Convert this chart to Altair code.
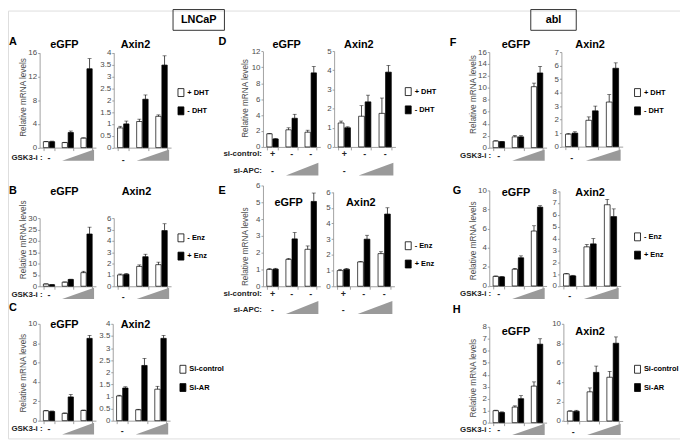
import altair as alt
import pandas as pd

# ---------------- data ----------------
GROUPS = ["1", "2", "3"]
DHT = ["+ DHT", "- DHT"]
ENZ = ["- Enz", "+ Enz"]
SIAR = ["Si-control", "Si-AR"]
DOSE = [1.7, 3.4]          # GSK3-i / si-APC ramp, in group units
DOSE_LEVEL = [0, 1]

# panel A (LNCaP, DHT)
A_eGFP_w = [1.0, 0.85, 1.6];   A_eGFP_w_err = [0.05, 0.05, 0.05]
A_eGFP_b = [1.0, 2.55, 13.3];  A_eGFP_b_err = [0.1, 0.25, 1.7]
A_Axin2_w = [0.83, 1.1, 1.32]; A_Axin2_w_err = [0.07, 0.1, 0.06]
A_Axin2_b = [1.0, 2.04, 3.48]; A_Axin2_b_err = [0.12, 0.18, 0.39]
# panel B (LNCaP, Enz)
B_eGFP_w = [1.0, 1.8, 6.0];    B_eGFP_w_err = [0.05, 0.1, 0.6]
B_eGFP_b = [0.7, 3.0, 23.0];   B_eGFP_b_err = [0.05, 0.1, 3.0]
B_Axin2_w = [1.0, 1.75, 1.9];  B_Axin2_w_err = [0.08, 0.13, 0.22]
B_Axin2_b = [1.05, 2.6, 4.9];  B_Axin2_b_err = [0.07, 0.22, 0.6]
# panel C (LNCaP, si-AR)
C_eGFP_w = [1.02, 0.75, 1.05]; C_eGFP_w_err = [0.03, 0.05, 0.05]
C_eGFP_b = [0.95, 2.45, 8.5];  C_eGFP_b_err = [0.05, 0.25, 0.3]
C_Axin2_w = [1.02, 0.45, 1.3]; C_Axin2_w_err = [0.03, 0.02, 0.12]
C_Axin2_b = [1.35, 2.28, 3.4]; C_Axin2_b_err = [0.05, 0.29, 0.12]
# panel D (LNCaP, DHT, si-APC)
D_eGFP_w = [1.65, 2.15, 1.85]; D_eGFP_w_err = [0.05, 0.25, 0.25]
D_eGFP_b = [1.0, 3.6, 9.3];    D_eGFP_b_err = [0.05, 0.5, 0.8]
D_Axin2_w = [1.25, 1.6, 1.75]; D_Axin2_w_err = [0.1, 0.55, 0.8]
D_Axin2_b = [1.0, 2.35, 3.9];  D_Axin2_b_err = [0.05, 0.35, 0.35]
# panel E (LNCaP, Enz, si-APC)
E_eGFP_w = [1.0, 1.6, 2.2];    E_eGFP_w_err = [0.05, 0.06, 0.2]
E_eGFP_b = [1.02, 2.82, 5.05]; E_eGFP_b_err = [0.05, 0.38, 0.5]
E_Axin2_w = [1.0, 1.55, 2.08]; E_Axin2_w_err = [0.08, 0.03, 0.12]
E_Axin2_b = [1.08, 3.0, 4.6];  E_Axin2_b_err = [0.06, 0.25, 0.4]
# panel F (abl, DHT)
F_eGFP_w = [1.1, 1.8, 10.2];   F_eGFP_w_err = [0.05, 0.2, 0.6]
F_eGFP_b = [1.0, 1.8, 12.5];   F_eGFP_b_err = [0.05, 0.2, 1.1]
F_Axin2_w = [0.92, 1.95, 3.3]; F_Axin2_w_err = [0.05, 0.25, 0.55]
F_Axin2_b = [1.0, 2.65, 5.8];  F_Axin2_b_err = [0.1, 0.35, 0.4]
# panel G (abl, Enz)
G_eGFP_w = [1.0, 1.75, 5.75];  G_eGFP_w_err = [0.05, 0.1, 0.55]
G_eGFP_b = [0.95, 2.95, 8.25]; G_eGFP_b_err = [0.05, 0.2, 0.15]
G_Axin2_w = [1.02, 3.3, 6.85]; G_Axin2_w_err = [0.04, 0.2, 0.45]
G_Axin2_b = [0.85, 3.55, 5.85]; G_Axin2_b_err = [0.05, 0.45, 0.65]
# panel H (abl, si-AR)
H_eGFP_w = [1.0, 1.3, 3.05];   H_eGFP_w_err = [0.04, 0.1, 0.35]
H_eGFP_b = [0.85, 2.0, 6.55];  H_eGFP_b_err = [0.05, 0.25, 0.45]
H_Axin2_w = [1.0, 3.0, 4.5];   H_Axin2_w_err = [0.05, 0.4, 0.6]
H_Axin2_b = [1.0, 5.0, 8.0];   H_Axin2_b_err = [0.1, 0.65, 0.65]

# ---------------- layout / style ----------------
M = 8
W, H = 680, 433
FONT = "Liberation Sans"
AXC = "#8a8a8a"
LABC = "#4d4d4d"


def frame(conds, v1, e1, v2, e2):
    rows = []
    for i, g in enumerate(GROUPS):
        rows.append(dict(group=g, cond=conds[0], val=v1[i], hi=v1[i] + e1[i]))
        rows.append(dict(group=g, cond=conds[1], val=v2[i], hi=v2[i] + e2[i]))
    return pd.DataFrame(rows)


def plot(df, conds, box, ymax, step, leg, rows):
    x0, x1, yt, yb = box[0] - M, box[1] - M, box[2] - M, box[3] - M
    xs = alt.Scale(domain=GROUPS, range=[x0, x1], paddingInner=0.4, paddingOuter=0.2)
    ys = alt.Scale(domain=[0, ymax], range=[yb, yt], nice=False)
    os_ = alt.Scale(domain=conds, paddingInner=0.12)
    n = int(round(ymax / step))
    vals = [round(i * step, 3) for i in range(n + 1)]
    xax = alt.Axis(orient="bottom", offset=yb - H, labels=False, title=None, grid=False,
                   tickBand="extent", tickSize=3, domainColor=AXC, tickColor=AXC,
                   domainWidth=0.8, tickWidth=0.8)
    yax = alt.Axis(orient="left", offset=-x0, values=vals, format="~r", title=None, grid=False,
                   tickSize=2, labelFontSize=8, labelColor=LABC, labelPadding=1, labelFont=FONT,
                   domainColor=AXC, tickColor=AXC, domainWidth=0.8, tickWidth=0.8)
    lx, ly = leg
    legend = alt.Legend(orient="none", legendX=lx - 1.5 - M, legendY=ly - 4.5 - M, title=None,
                        symbolType="M-0.75,-1L0.75,-1L0.75,1L-0.75,1Z", symbolSize=64,
                        symbolStrokeColor="black", symbolStrokeWidth=0.8,
                        labelFontSize=7.5, labelFontWeight="bold", labelColor="black",
                        labelFont=FONT, labelOffset=2, rowPadding=5.5, padding=0)
    X = alt.X("group:N", scale=xs, axis=xax)
    XO = alt.XOffset("cond:N", scale=os_)
    base = alt.Chart(df)
    bars = base.mark_bar(stroke="black", strokeWidth=0.7).encode(
        x=X, xOffset=XO, y=alt.Y("val:Q", scale=ys, axis=yax),
        fill=alt.Fill("cond:N", scale=alt.Scale(domain=conds, range=["white", "black"]), legend=legend))
    err = base.mark_rule(color="black", strokeWidth=0.7).encode(
        x=X, xOffset=XO, y=alt.Y("val:Q", scale=ys, axis=yax), y2="hi:Q")
    cap = base.mark_tick(color="black", thickness=0.7, size=4).encode(
        x=X, xOffset=XO, y=alt.Y("hi:Q", scale=ys, axis=yax))
    layers = [bars, err, cap]
    for labels, ry in rows:
        ldf = pd.DataFrame({"group": GROUPS[:len(labels)], "t": labels})
        layers.append(alt.Chart(ldf).mark_text(fontSize=9, fontWeight="bold", font=FONT, color="#222").encode(
            x=X, y=alt.value(ry - M), text="t:N"))
    return alt.layer(*layers)


def wedge(box, wy, dose):
    x0, x1 = box[0] - M, box[1] - M
    top, bot = wy[0] - M, wy[1] - M
    df = pd.DataFrame({"dose": dose, "h": DOSE_LEVEL})
    return alt.Chart(df).mark_area(color="#9a9a9a").encode(
        x=alt.X("dose:Q", scale=alt.Scale(domain=[0.5, 3.5], range=[x0, x1], nice=False, zero=False), axis=None),
        y=alt.Y("h:Q", scale=alt.Scale(domain=[0, 1], range=[bot, top], nice=False), axis=None))


def panel(conds, e, a, ebox, emax, estep, abox, amax, astep, leg, rows_e, rows_a, wy):
    pe = plot(frame(conds, *e), conds, ebox, emax, estep, leg, rows_e)
    pa = plot(frame(conds, *a), conds, abox, amax, astep, leg, rows_a)
    return alt.layer(pe, pa, wedge(ebox, wy, DOSE), wedge(abox, wy, DOSE)).resolve_scale(
        x="independent", y="independent", xOffset="independent")


def text(s, x, y, size, weight="normal", align="center", angle=0, color="black"):
    return alt.Chart(pd.DataFrame({"t": [s]})).mark_text(
        fontSize=size, fontWeight=weight, align=align, baseline="middle", angle=angle,
        color=color, font=FONT).encode(x=alt.value(x - M), y=alt.value(y - M), text="t:N")


def frame_box(x0, x1, y0, y1):
    return alt.Chart(pd.DataFrame({"a": [0]})).mark_rect(fillOpacity=0, stroke="#333", strokeWidth=1).encode(
        x=alt.value(x0 - M), x2=alt.value(x1 - M), y=alt.value(y0 - M), y2=alt.value(y1 - M))


panels = [
    panel(DHT, (A_eGFP_w, A_eGFP_w_err, A_eGFP_b, A_eGFP_b_err), (A_Axin2_w, A_Axin2_w_err, A_Axin2_b, A_Axin2_b_err),
          (40, 97, 50.7, 146.7), 16, 4, (115, 173, 50.7, 146.7), 4, 0.5, (180, 91),
          [(["-"], 157)], [(["-"], 159)], (148.7, 160)),
    panel(ENZ, (B_eGFP_w, B_eGFP_w_err, B_eGFP_b, B_eGFP_b_err), (B_Axin2_w, B_Axin2_w_err, B_Axin2_b, B_Axin2_b_err),
          (40, 97, 218, 287), 30, 5, (115, 173, 218, 287), 6, 1, (180, 238),
          [(["-"], 296)], [(["-"], 298)], (288.5, 300)),
    panel(SIAR, (C_eGFP_w, C_eGFP_w_err, C_eGFP_b, C_eGFP_b_err), (C_Axin2_w, C_Axin2_w_err, C_Axin2_b, C_Axin2_b_err),
          (40, 97, 325, 423), 10, 2, (114, 172, 325, 423), 4, 0.5, (182, 371),
          [(["-"], 431)], [(["-"], 433)], (425, 437)),
    panel(DHT, (D_eGFP_w, D_eGFP_w_err, D_eGFP_b, D_eGFP_b_err), (D_Axin2_w, D_Axin2_w_err, D_Axin2_b, D_Axin2_b_err),
          (266, 324, 49.3, 146), 12, 2, (338, 400, 49, 146), 5, 1, (410, 90),
          [(["+", "-", "-"], 153.5), (["-"], 170)], [(["+", "-", "-"], 153.5), (["-"], 170)], (162, 175)),
    panel(ENZ, (E_eGFP_w, E_eGFP_w_err, E_eGFP_b, E_eGFP_b_err), (E_Axin2_w, E_Axin2_w_err, E_Axin2_b, E_Axin2_b_err),
          (266, 324, 185, 287), 6, 1, (337, 399, 191.7, 287), 6, 1, (410, 246),
          [(["+", "-", "-"], 295), (["-"], 311)], [(["+", "-", "-"], 295), (["-"], 311)], (302, 315)),
    panel(DHT, (F_eGFP_w, F_eGFP_w_err, F_eGFP_b, F_eGFP_b_err), (F_Axin2_w, F_Axin2_w_err, F_Axin2_b, F_Axin2_b_err),
          (495, 553, 50, 146.7), 16, 2, (568, 630, 50, 145.7), 7, 1, (642, 91),
          [(["-"], 155)], [(["-"], 157)], (148.5, 160)),
    panel(ENZ, (G_eGFP_w, G_eGFP_w_err, G_eGFP_b, G_eGFP_b_err), (G_Axin2_w, G_Axin2_w_err, G_Axin2_b, G_Axin2_b_err),
          (495, 553, 190, 286.7), 10, 2, (566, 628, 190.7, 286.7), 8, 1, (642, 237),
          [(["-"], 295)], [(["-"], 297)], (288.5, 300)),
    panel(SIAR, (H_eGFP_w, H_eGFP_w_err, H_eGFP_b, H_eGFP_b_err), (H_Axin2_w, H_Axin2_w_err, H_Axin2_b, H_Axin2_b_err),
          (495, 553, 328, 425), 8, 1, (570, 630, 325, 423.3), 10, 2, (642, 371),
          [(["-"], 432)], [(["-"], 434)], (426, 437.5)),
]

texts = [
    frame_box(175, 227, 7, 28), text("LNCaP", 201, 17.5, 11, "bold"),
    frame_box(537, 583, 7, 28), text("abl", 560, 17.5, 11, "bold"),
]
for s, x, y in [("A", 9, 40), ("B", 9, 191), ("C", 9, 309), ("D", 221, 40), ("E", 221, 191),
                ("F", 455, 41), ("G", 458, 191), ("H", 458, 311)]:
    texts.append(text(s, x, y, 11, "bold", align="left"))
for xe, xa, y in [(65, 137, 43), (65, 138, 192), (65, 137, 326), (290, 363, 43), (292, 365, 203),
                  (522, 597, 43), (522, 597, 193), (522, 597, 333)]:
    texts.append(text("eGFP", xe, y, 11, "bold"))
    texts.append(text("Axin2", xa, y, 11, "bold"))
for x, y in [(24.5, 96), (24.5, 240), (24.5, 375), (248.5, 97), (248.5, 247), (479.5, 93), (479.5, 241), (479.5, 380)]:
    texts.append(text("Relative mRNA levels", x, y, 8.3, angle=270, color=LABC))
for x, y in [(43, 157), (43, 296), (43, 431), (497, 155), (497, 295), (497, 432)]:
    texts.append(text("GSK3-i :", x, y, 8, "bold", align="right", color="#222"))
for y1, y2 in [(153.5, 170), (295, 311)]:
    texts.append(text("si-control:", 265, y1, 8, "bold", align="right", color="#222"))
    texts.append(text("si-APC:", 265, y2, 8, "bold", align="right", color="#222"))

chart = alt.layer(*panels, *texts).resolve_scale(
    x="independent", y="independent", xOffset="independent", fill="independent"
).properties(
    width=W, height=H, autosize=alt.AutoSizeParams(type="none"), padding=0
).configure_view(stroke=None).configure(font=FONT)

chart.save("out.html", embed_options={"renderer": "svg", "actions": False})
